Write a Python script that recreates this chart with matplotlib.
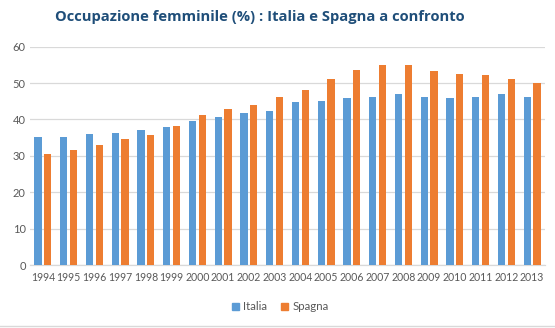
import matplotlib
matplotlib.use("Agg")
import matplotlib.pyplot as plt
import numpy as np
from matplotlib.lines import Line2D

years = ["1994", "1995", "1996", "1997", "1998", "1999", "2000", "2001", "2002", "2003",
         "2004", "2005", "2006", "2007", "2008", "2009", "2010", "2011", "2012", "2013"]
italia = [35.3, 35.3, 35.9, 36.2, 37.2, 38.0, 39.5, 40.8, 41.9, 42.4,
          44.9, 45.2, 46.0, 46.3, 47.1, 46.3, 46.0, 46.3, 46.9, 46.3]
spagna = [30.6, 31.5, 32.9, 34.5, 35.6, 38.3, 41.1, 43.0, 44.1, 46.1,
          48.2, 51.0, 53.7, 55.1, 55.1, 53.2, 52.6, 52.3, 51.0, 50.1]
yticks = [0, 10, 20, 30, 40, 50, 60]
title = "Occupazione femminile (%) : Italia e Spagna a confronto"
series_names = ["Italia", "Spagna"]

blue = "#5B9BD5"
orange = "#ED7D31"
tick_color = "#595959"

plt.rcParams['font.family'] = ['Lato', 'DejaVu Sans']

fig = plt.figure(figsize=(5.55, 3.28), dpi=100)
ax = fig.add_axes([30/555, 1-265/328, 515/555, (265-46.7)/328])

x = np.arange(len(years))
w = 0.28
ax.bar(x - 0.19, italia, width=w, color=blue, zorder=3)
ax.bar(x + 0.19, spagna, width=w, color=orange, zorder=3)

ax.set_xlim(-0.5, len(years) - 0.5)
ax.set_ylim(0, 60)
ax.set_yticks(yticks)
ax.set_yticklabels([str(v) for v in yticks])
ax.set_xticks(x)
ax.set_xticklabels(years)
ax.grid(axis='y', color='#D9D9D9', linewidth=0.9, zorder=0)
ax.tick_params(axis='both', length=0, labelsize=7.6, colors=tick_color)
ax.tick_params(axis='y', pad=3, labelsize=8)
ax.tick_params(axis='x', pad=5)
for s in ['top', 'right', 'left']:
    ax.spines[s].set_visible(False)
ax.spines['bottom'].set_color('#D9D9D9')
ax.spines['bottom'].set_linewidth(0.9)

fig.text(0.469, 1-17/328, title, ha='center', va='center', fontsize=10.6,
         fontweight='bold', color='#1F4E79', family=['Open Sans', 'DejaVu Sans'])

handles = [plt.Rectangle((0, 0), 1, 1, color=blue), plt.Rectangle((0, 0), 1, 1, color=orange)]
fig.legend(handles, series_names, loc='center', bbox_to_anchor=(0.505, 1-307/328),
           ncol=2, frameon=False, fontsize=8.3, handlelength=0.6, handleheight=0.6,
           handletextpad=0.4, columnspacing=1.2, labelcolor=tick_color)

fig.add_artist(Line2D([0, 1], [1-326/328, 1-326/328], color='#D9D9D9', linewidth=1,
                      transform=fig.transFigure))

fig.savefig("out.png", dpi=100)
